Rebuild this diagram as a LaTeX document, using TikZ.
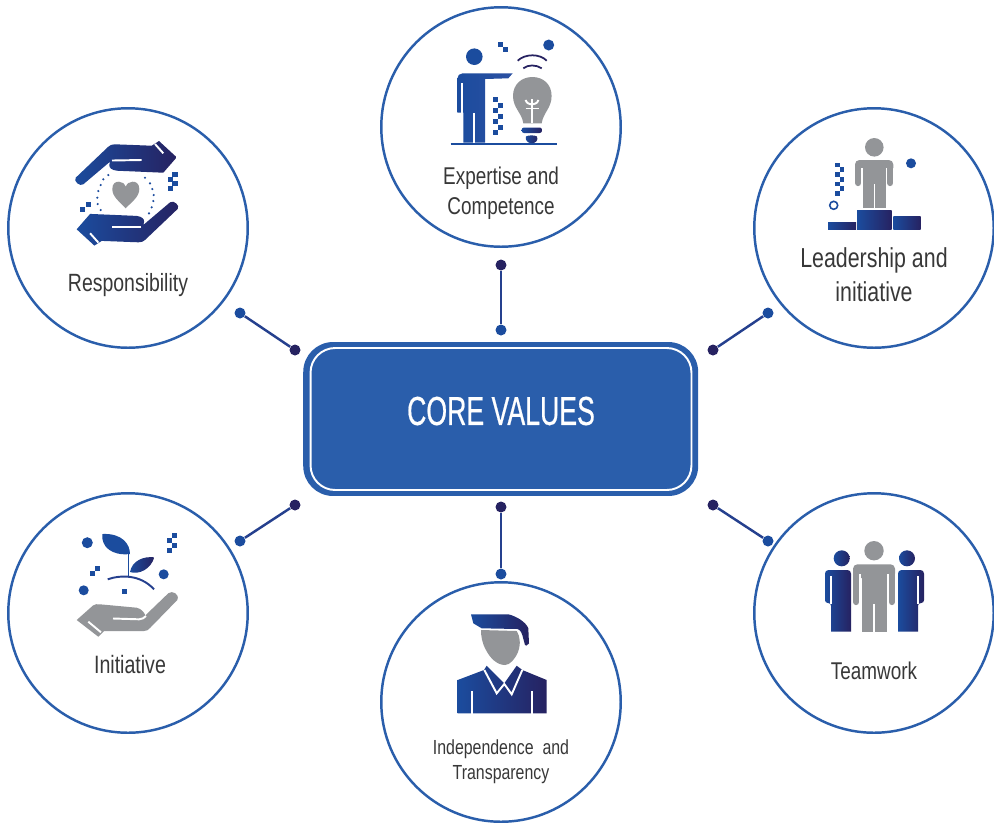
\documentclass[tikz,border=0pt]{standalone}
\usepackage{fontspec}
\setmainfont{Liberation Sans}[FakeStretch=0.78]
\newfontfamily\corefont{Liberation Sans}[FakeStretch=0.66, FakeBold=0.5]
\usepackage{xcolor}
\definecolor{coreblue}{HTML}{2A5EAB}
\definecolor{iconblue}{HTML}{1B4C9E}
\definecolor{iconmid}{HTML}{2C50A2}
\definecolor{iconnavy}{HTML}{262261}
\definecolor{icongrey}{HTML}{939598}
\definecolor{linkblue}{HTML}{25408E}
\tikzset{
  valuecircle/.style={circle, draw=coreblue, fill=white, line width=1.4pt,
                      minimum size=4.79cm, inner sep=0pt},
  corebox/.style={rectangle, rounded corners=17pt, fill=coreblue,
                  minimum width=7.9cm, minimum height=3.08cm},
  coreline/.style={rectangle, rounded corners=14pt, draw=white, line width=1.1pt,
                   minimum width=7.62cm, minimum height=2.84cm},
  coretitle/.style={text=white, font=\corefont\fontsize{23}{26}\selectfont},
  valuelabel/.style={text=black!78, align=center},
  dotblue/.style={circle, fill=iconblue, inner sep=0pt, minimum size=0.22cm},
  dotnavy/.style={circle, fill=iconnavy, inner sep=0pt, minimum size=0.22cm},
  link/.style={draw=linkblue, line width=1.4pt},
  icongrad/.style={left color=iconblue, middle color=iconmid, right color=iconnavy},
  slit/.style={draw=white, line width=1.1pt},
  greyarm/.style={draw=icongrey, line width=0.125cm, line cap=round},
}
\newcommand{\handpath}{(75.7,177.7) -- (108.3,146.7) .. controls (110,145) and (112,144.3) .. (115,144.3)
  -- (151.7,145.7) -- (159,141) -- (176.7,157.3) -- (163.3,172.7) -- (116.7,170.7)
  .. controls (112,170) and (109,168) .. (109.3,165) -- (110,161.7) -- (83.3,184.3)
  .. controls (80,187) and (73,181) .. (75.7,177.7) -- cycle}
\begin{document}
\begin{tikzpicture}[x=0.02cm, y=-0.02cm]
  \useasboundingbox (0,0) rectangle (994,823);

  %% ── Value circles ────────────────────────────────────────────────────────
  \node[valuecircle] (resp)   at (128,228) {};
  \node[valuecircle] (expert) at (501,127) {};
  \node[valuecircle] (lead)   at (874,228) {};
  \node[valuecircle] (init)   at (128,613) {};
  \node[valuecircle] (indep)  at (501,702) {};
  \node[valuecircle] (team)   at (874,613) {};

  %% ── Centre box ───────────────────────────────────────────────────────────
  \node[corebox]  (core)      at (500.7,419) {};
  \node[coreline] (coreedge)  at (501,419) {};
  \node[coretitle] (coretext) at (501,411) {CORE VALUES};

  %% ── Connectors with their end dots ───────────────────────────────────────
  \node[dotblue] (respA)   at (240,313) {};
  \node[dotnavy] (respB)   at (295,350) {};
  \node[dotnavy] (expertA) at (501,265) {};
  \node[dotblue] (expertB) at (501,330) {};
  \node[dotblue] (leadA)   at (768,313) {};
  \node[dotnavy] (leadB)   at (713,350) {};
  \node[dotblue] (initA)   at (240,541) {};
  \node[dotnavy] (initB)   at (295,505) {};
  \node[dotblue] (indepA)  at (501,574) {};
  \node[dotnavy] (indepB)  at (501,507) {};
  \node[dotblue] (teamA)   at (768,541) {};
  \node[dotnavy] (teamB)   at (713,505) {};
  \draw[link] (respA) -- (respB);
  \draw[link] (expertA) -- (expertB);
  \draw[link] (leadA) -- (leadB);
  \draw[link] (initA) -- (initB);
  \draw[link] (indepA) -- (indepB);
  \draw[link] (teamA) -- (teamB);

  %% ── Labels ───────────────────────────────────────────────────────────────
  \node[valuelabel, font=\fontsize{14.2}{17}\selectfont] (resptext) at (128,285) {Responsibility};
  \node[valuelabel, font=\fontsize{13.8}{17}\selectfont] (experttext) at (501,193) {Expertise and\\Competence};
  \node[valuelabel, font=\fontsize{15.6}{19.4}\selectfont] (leadtext) at (874,275) {Leadership and\\initiative};
  \node[valuelabel, font=\fontsize{14.3}{17}\selectfont] (inittext) at (130,665) {Initiative};
  \node[valuelabel, font=\fontsize{11.6}{14.2}\selectfont] (indeptext) at (501,762) {Independence\ \ and\\Transparency};
  \node[valuelabel, font=\fontsize{13.8}{17}\selectfont] (teamtext) at (874,671) {Teamwork};

  %% ── Responsibility icon ──────────────────────────────────────────────────
  \shade[icongrad] \handpath;
  \shade[icongrad, rotate around={180:(126.7,193.3)}] \handpath;
  \draw[slit] (112,160.5) -- (141.7,160);
  \draw[slit] (155,144) -- (163.3,153.3);
  \draw[slit] (141.4,226.6) -- (111.7,226.6);
  \draw[slit] (98.4,242.6) -- (90.1,233.3);
  \fill[icongrey] (125.7,208.3) .. controls (120,202) and (112.3,197) .. (112.3,189)
    .. controls (112.3,183) and (116,181.7) .. (119,181.7)
    .. controls (122,181.7) and (124.5,183.5) .. (125.7,186.7)
    .. controls (127,183.5) and (129.5,181.7) .. (132.5,181.7)
    .. controls (135.5,181.7) and (139.3,183) .. (139.3,189)
    .. controls (139.3,197) and (131.5,202) .. (125.7,208.3) -- cycle;
  \foreach \x/\y in {108.3/175, 103.3/179.3, 100.7/185, 98.3/191, 97.3/197.7, 97.7/204, 100.7/210,
                     145/177.7, 150/183.3, 152.3/189, 153.7/195, 153.3/201, 151.7/207.3, 149/213.3}
    \fill[iconblue] (\x,\y) circle[radius=1.2];
  \foreach \x/\y in {172.4/171.7, 168/176.7, 172.4/180.7, 168/185.7, 80/207, 85.6/202}
    \fill[iconblue] (\x,\y) rectangle ++(5.2,5.2);

  %% ── Expertise icon ───────────────────────────────────────────────────────
  \fill[iconblue] (474.3,56.7) circle[radius=8.3];
  \fill[iconblue] (548.7,45) circle[radius=5.5];
  \shade[left color=iconblue, right color=iconmid] (457.3,112.7) [rounded corners=3pt] -- (457.3,73.3)
    [sharp corners] -- (512.7,73.3) -- (508.3,78.3) -- (485,79) -- (485,142.7) -- (463.3,142.7) -- (463.3,112.7) -- cycle;
  \draw[slit] (462.3,83) -- (462.3,113);
  \draw[slit] (474,113) -- (474,143);
  \draw[draw=iconblue, line width=1.1pt] (450.7,143.6) -- (556.7,143.6);
  \foreach \x/\y in {498/42, 503/47}
    \fill[iconblue] (\x,\y) rectangle ++(5.2,5.2);
  \foreach \x/\y in {493.3/97, 498/102.5, 493.3/108, 498/113.5, 493.3/119, 498/124.5, 493.3/130}
    \fill[iconblue] (\x,\y) rectangle ++(4.8,5);
  \draw[iconnavy, line width=1pt] (517.7,60.7) .. controls (525,53.5) and (540,53.5) .. (546.7,60.7);
  \draw[iconnavy, line width=1pt] (523.3,68.3) .. controls (528,64.5) and (536,64.5) .. (541.7,68.3);
  \fill[icongrey] (523.3,123.3) .. controls (522,113) and (513,108) .. (513,96)
    .. controls (513,84) and (522,77) .. (532.3,77) .. controls (543,77) and (551.6,84) .. (551.6,96)
    .. controls (551.6,108) and (543,113) .. (541.7,123.3) -- cycle;
  \draw[slit] (531.7,99) -- (531.7,123.3);
  \draw[slit] (525.5,100) .. controls (527,104) and (530,104) .. (531.7,104.5)
    .. controls (534,104) and (537,104) .. (538.5,100);
  \draw[slit] (525.5,108.5) -- (538.5,108.5);
  \shade[icongrad, rounded corners=1.3pt] (521.7,127.5) rectangle (542,133);
  \shade[icongrad] (526,136.5) .. controls (528,135) and (535,135) .. (537,136.5)
    .. controls (538.5,140) and (536,143.2) .. (531.7,143.2) .. controls (527.5,143.2) and (525,140) .. (526,136.5) -- cycle;

  %% ── Leadership icon ──────────────────────────────────────────────────────
  \fill[icongrey] (874.3,147.3) circle[radius=9.3];
  \fill[icongrey, rounded corners=2.5pt] (855,172) rectangle (893.3,160);
  \fill[icongrey] (863.3,165) rectangle (886,208.3);
  \draw[greyarm] (858.2,168) -- (858.2,183);
  \draw[greyarm] (890.1,168) -- (890.1,183);
  \draw[slit] (862,168) -- (862,188);
  \draw[slit] (886.5,168) -- (886.5,188);
  \draw[slit] (874.5,184) -- (874.5,209);
  \foreach \x/\y in {835/162.7, 839.5/167.4, 835/172.1, 839.5/176.8, 835/181.5, 839.5/186.2, 835/190.9}
    \fill[iconblue] (\x,\y) rectangle ++(4.7,4.7);
  \fill[iconblue] (911,163.3) circle[radius=5];
  \draw[iconblue, line width=0.9pt] (833.7,205.3) circle[radius=4];
  \shade[icongrad] (828,222) rectangle (856,229);
  \shade[icongrad] (857,210.7) rectangle (891.7,229);
  \shade[icongrad] (893.3,216) rectangle (920.7,229);

  %% ── Initiative icon ──────────────────────────────────────────────────────
  \fill[iconblue] (87.3,542.7) circle[radius=5.5];
  \fill[iconblue] (163.7,574.3) circle[radius=5];
  \fill[iconblue] (83.7,590.3) circle[radius=5];
  \foreach \x/\y in {172/533, 167/538, 172/543, 167/548, 94.5/566, 89.5/571, 122/589}
    \fill[iconblue] (\x,\y) rectangle ++(5,5);
  \fill[iconblue] (102.3,534) .. controls (122,533) and (130,544) .. (130,554)
    .. controls (112,556) and (101,547) .. (102.3,534) -- cycle;
  \draw[iconblue, line width=1pt] (128.5,553) -- (128.5,576);
  \shade[icongrad] (130,572) .. controls (132,561) and (143,556) .. (154.3,557.3)
    .. controls (151,569) and (139,575) .. (130,572) -- cycle;
  \draw[linkblue, line width=1.1pt] (107.7,579.3) .. controls (120,575) and (140,574) .. (154,589.3);
  \fill[icongrey] (76.7,620) -- (93,605.5) .. controls (95,604) and (97,604) .. (100,604.3)
    -- (136.7,607.7) .. controls (142,608.5) and (146,615) .. (145,615.7)
    -- (168.3,593.3) .. controls (172,590) and (180,594) .. (177.3,600)
    -- (150,628) .. controls (148,630) and (147,631) .. (144,631) -- (104,631) -- (98.3,636.7) -- cycle;
  \draw[slit] (113,618.5) -- (139,619.3) .. controls (142,619.3) and (144,618) .. (146,616);
  \draw[slit] (88.3,621.7) -- (101,632.3);

  %% ── Independence icon ────────────────────────────────────────────────────
  \fill[icongrey] (481,630) -- (516.7,631) .. controls (520,636) and (521,644) .. (518,652)
    .. controls (515,659) and (510,665) .. (505,665) .. controls (497,665) and (490,658) .. (486,650)
    .. controls (482,643) and (481,636) .. (481,630) -- cycle;
  \shade[icongrad] (471,614.3) -- (508.3,614.3) .. controls (516,616) and (526,622) .. (528.3,628.3)
    -- (529,643.3) .. controls (528,646) and (525,646) .. (525,645) -- (522.3,635) .. controls (521,631) and (519,629) .. (517.7,629)
    -- (481.7,628.3) -- (473.3,623.3) -- cycle;
  \shade[icongrad] (457.7,680) -- (484,670) -- (486.7,665.7) -- (504.3,683.3) -- (516.7,665.7)
    -- (522.3,670) -- (546.7,680) -- (546.7,713.3) -- (457.7,713.3) -- cycle;
  \draw[slit, line join=miter] (484.3,670) -- (496.7,693.3) -- (504.3,684) -- (511.7,694.3) -- (522.3,670);
  \draw[slit] (471.7,691) -- (471.7,713.5);
  \draw[slit] (531.7,691) -- (531.7,713.5);

  %% ── Teamwork icon ────────────────────────────────────────────────────────
  \shade[icongrad] (841.7,558.3) circle[radius=8];
  \shade[icongrad] (907,558.3) circle[radius=8];
  \shade[icongrad, rounded corners=2pt] (825,603) -- (825,570) -- (851,570)
    [sharp corners] -- (851,631.7) -- (831,631.7) [rounded corners=1.6pt] -- (831,603) -- cycle;
  \shade[icongrad, rounded corners=2pt] (924,603) -- (924,570) -- (898,570)
    [sharp corners] -- (898,631.7) -- (918,631.7) [rounded corners=1.6pt] -- (918,603) -- cycle;
  \draw[slit] (830.7,576) -- (830.7,604);
  \draw[slit] (918.3,576) -- (918.3,604);
  \fill[icongrey] (874,550.7) circle[radius=9.7];
  \fill[icongrey, rounded corners=2.5pt] (853,578) rectangle (895,564.3);
  \fill[icongrey] (861.7,570) rectangle (886.7,631.7);
  \draw[greyarm] (856.2,570) -- (856.2,602);
  \draw[greyarm] (891.8,570) -- (891.8,602);
  \draw[slit] (860.4,574) -- (860.4,606);
  \draw[slit] (887.6,574) -- (887.6,606);
  \draw[slit] (874.3,604) -- (874.3,632);
\end{tikzpicture}
\end{document}
